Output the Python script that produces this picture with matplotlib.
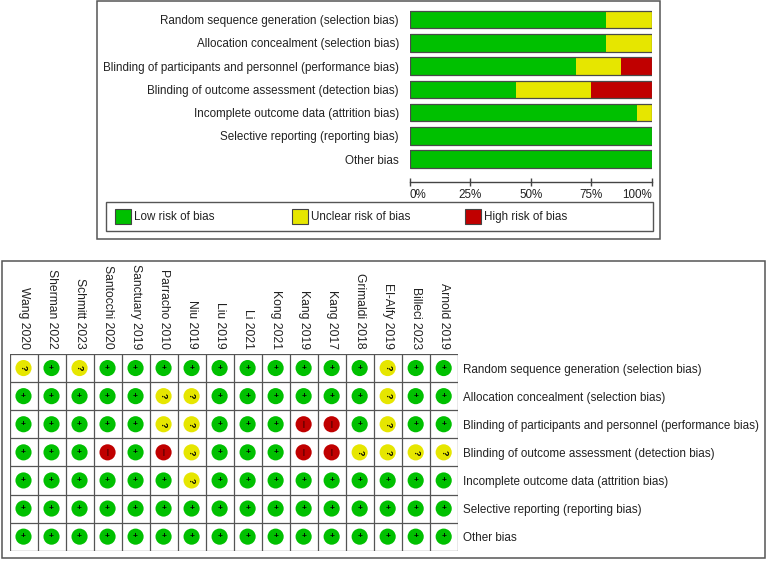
import matplotlib
matplotlib.use("Agg")
import matplotlib.pyplot as plt
from matplotlib.patches import Rectangle
import numpy as np

plt.rcParams['font.family'] = ['Liberation Sans', 'DejaVu Sans']

# ---------------- data ----------------
domains = [
    "Random sequence generation (selection bias)",
    "Allocation concealment (selection bias)",
    "Blinding of participants and personnel (performance bias)",
    "Blinding of outcome assessment (detection bias)",
    "Incomplete outcome data (attrition bias)",
    "Selective reporting (reporting bias)",
    "Other bias",
]
studies = ["Wang 2020", "Sherman 2022", "Schmitt 2023", "Santocchi 2020",
           "Sanctuary 2019", "Parracho 2010", "Niu 2019", "Liu 2019", "Li 2021",
           "Kong 2021", "Kang 2019", "Kang 2017", "Grimaldi 2018", "El-Alfy 2019",
           "Billeci 2023", "Arnold 2019"]
# judgements per domain (row) for each study (column): + low, ? unclear, - high
judgements = [
    "?+?++++++++++?++",
    "+++++??++++++?++",
    "+++++??+++--+?++",
    "+++-+-?+++--????",
    "++++++?+++++++++",
    "++++++++++++++++",
    "++++++++++++++++",
]
# summary percentages (%) per domain
low_pct = [81.25, 81.25, 68.75, 43.75, 93.75, 100, 100]
unclear_pct = [18.75, 18.75, 18.75, 31.25, 6.25, 0, 0]
high_pct = [0, 0, 12.5, 25, 0, 0, 0]
xticks = [0, 25, 50, 75, 100]
xtick_labels = ["0%", "25%", "50%", "75%", "100%"]
legend_labels = ["Low risk of bias", "Unclear risk of bias", "High risk of bias"]

GREEN = "#00c000"
YELLOW = "#e6e600"
RED = "#c00000"
TXT = "#222222"
FS = 8.4

W, H = 767, 561
fig = plt.figure(figsize=(W / 100, H / 100), dpi=100)
fig.patch.set_facecolor("white")


def fax(x0, y0, x1, y1):
    return fig.add_axes([x0 / W, 1 - y1 / H, (x1 - x0) / W, (y1 - y0) / H])


# background overlay for frames
bg = fig.add_axes([0, 0, 1, 1], zorder=0)
bg.set_xlim(0, W)
bg.set_ylim(H, 0)
bg.axis("off")
bg.add_patch(Rectangle((97, 1), 563, 238, fill=False, ec="#555555", lw=1.1))
bg.add_patch(Rectangle((106, 202), 547, 29, fill=False, ec="#555555", lw=1.0))
bg.add_patch(Rectangle((2, 261), 763, 297, fill=False, ec="#555555", lw=1.1))
sw_x = [115, 292, 465]
for x, c, lab in zip(sw_x, [GREEN, YELLOW, RED], legend_labels):
    bg.add_patch(Rectangle((x, 208.5), 15.5, 15.5, fc=c, ec="#444444", lw=0.8))
    bg.text(x + 19, 216.5, lab, fontsize=FS, color=TXT, va="center", ha="left")

# ---------------- top summary bar chart ----------------
ax = fax(410, 7.9, 651.7, 170.8)
ax.set_zorder(1)
ax.patch.set_alpha(0)
y = np.arange(len(domains))
low = np.array(low_pct)
unc = np.array(unclear_pct)
hig = np.array(high_pct)
h = 0.76
ax.barh(y, low, height=h, color=GREEN, lw=0)
ax.barh(y, unc, left=low, height=h, color=YELLOW, lw=0)
ax.barh(y, hig, left=low + unc, height=h, color=RED, lw=0)
ax.barh(y, low + unc + hig, height=h, fill=False, ec="#4a4a4a", lw=0.9)
ax.set_xlim(0, 100)
ax.set_ylim(len(domains) - 0.5, -0.5)
ax.set_yticks(y)
ax.set_yticklabels(domains, fontsize=FS, color=TXT)
ax.tick_params(axis="y", length=0, pad=8)
for s in ["top", "right", "left"]:
    ax.spines[s].set_visible(False)
ax.spines["bottom"].set_position(("outward", 8))
ax.spines["bottom"].set_color("#444444")
ax.spines["bottom"].set_linewidth(1.0)
ax.set_xticks(xticks)
ax.set_xticklabels(xtick_labels, fontsize=FS, color=TXT)
ax.tick_params(axis="x", direction="inout", length=6, width=1.0, color="#444444", pad=2)
labs = ax.get_xticklabels()
labs[0].set_ha("left")
labs[-1].set_ha("right")

# ---------------- bottom traffic-light grid ----------------
g = fax(9.5, 354, 457.7, 550.7)
g.set_zorder(1)
nr, nc = len(domains), len(studies)
g.set_xlim(-0.5, nc - 0.5)
g.set_ylim(nr - 0.5, -0.5)
for i in range(nc + 1):
    g.axvline(i - 0.5, color="#555555", lw=0.9)
for j in range(nr + 1):
    g.axhline(j - 0.5, color="#555555", lw=0.9)
for s in g.spines.values():
    s.set_visible(False)
g.set_xticks([])
g.yaxis.tick_right()
g.set_yticks(range(nr))
g.set_yticklabels(domains, fontsize=FS, color=TXT)
g.tick_params(axis="y", length=0, pad=4)

colmap = {"+": GREEN, "?": YELLOW, "-": RED}
for r, row in enumerate(judgements):
    for c, v in enumerate(row):
        g.scatter(c, r, s=135, color=colmap[v], edgecolors="none", zorder=3)
        if v == "+":
            g.text(c, r, "+", fontsize=6, fontweight="bold", ha="center", va="center",
                   color="black", zorder=4)
        elif v == "?":
            g.text(c, r, "?", fontsize=6.5, fontweight="bold", ha="center", va="center",
                   color="black", rotation=-90, zorder=4)
        else:
            g.text(c, r, "|", fontsize=5, ha="center", va="center", color="black", zorder=4)

for c, name in enumerate(studies):
    g.annotate(name, xy=(c, -0.5), xytext=(0, 5), textcoords="offset pixels",
               rotation=-90, ha="center", va="bottom", fontsize=FS + 0.3, color=TXT,
               annotation_clip=False)

fig.savefig("out.png", dpi=100)
